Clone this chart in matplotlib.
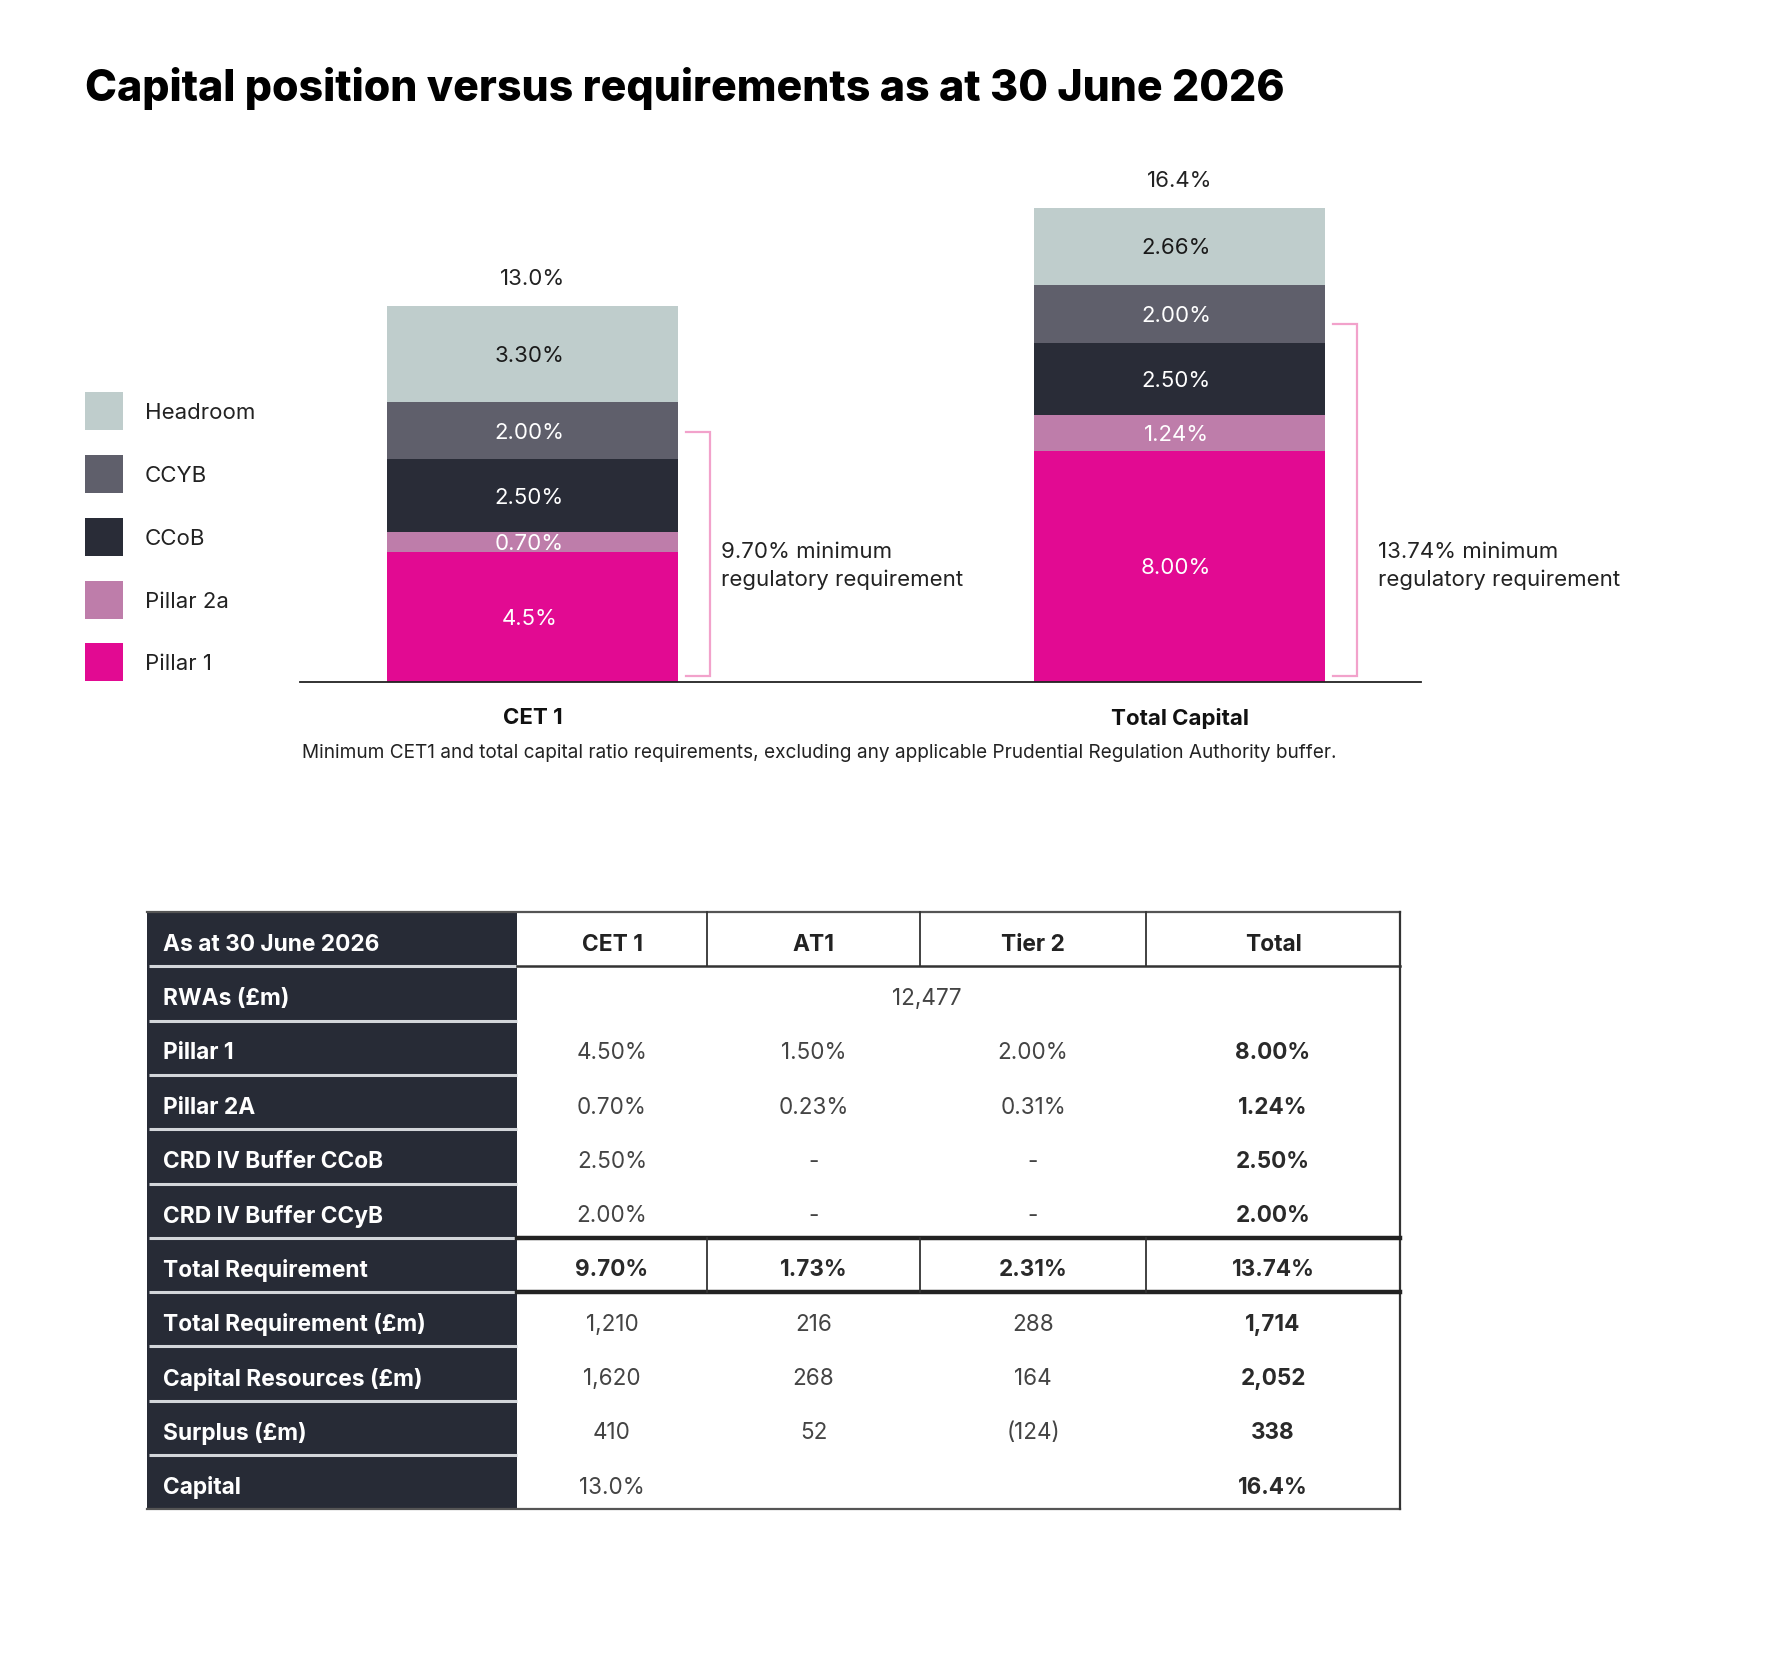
import matplotlib.pyplot as plt
from matplotlib.patches import Rectangle

plt.rcParams['font.family'] = ['Inter', 'DejaVu Sans']

# dados do grafico
categorias = ["CET 1", "Total Capital"]
camadas = ["Pillar 1", "Pillar 2a", "CCoB", "CCYB", "Headroom"]
cores = ["#E20A92", "#BE7DAA", "#292C37", "#5F5F6B", "#BFCDCC"]
cor_texto = ["white", "white", "white", "white", "#1a1a1a"]
valores_cet1 = [4.5, 0.70, 2.50, 2.00, 3.30]
valores_total = [8.00, 1.24, 2.50, 2.00, 2.66]
rotulos_cet1 = ["4.5%", "0.70%", "2.50%", "2.00%", "3.30%"]
rotulos_total = ["8.00%", "1.24%", "2.50%", "2.00%", "2.66%"]
totais = ["13.0%", "16.4%"]
minimos = ["9.70% minimum\nregulatory requirement",
           "13.74% minimum\nregulatory requirement"]
chave_topo = [8.65, 12.4]   # topo das chaves rosas (em %)
chave_base = 0.2

# dados da tabela
cabecalho = ["As at 30 June 2026", "CET 1", "AT1", "Tier 2", "Total"]
linhas = ["RWAs (£m)", "Pillar 1", "Pillar 2A", "CRD IV Buffer CCoB",
          "CRD IV Buffer CCyB", "Total Requirement", "Total Requirement (£m)",
          "Capital Resources (£m)", "Surplus (£m)", "Capital"]
col_cet1 = ["", "4.50%", "0.70%", "2.50%", "2.00%", "9.70%", "1,210", "1,620", "410", "13.0%"]
col_at1 = ["", "1.50%", "0.23%", "-", "-", "1.73%", "216", "268", "52", ""]
col_tier2 = ["", "2.00%", "0.31%", "-", "-", "2.31%", "288", "164", "(124)", ""]
col_tot = ["", "8.00%", "1.24%", "2.50%", "2.00%", "13.74%", "1,714", "2,052", "338", "16.4%"]
rwas = "12,477"

W, H = 1777, 1662
fig = plt.figure(figsize=(W / 100, H / 100), dpi=100)

# eixo de sobreposicao em pixels
ov = fig.add_axes([0, 0, 1, 1])
ov.set_xlim(0, W)
ov.set_ylim(H, 0)
ov.axis('off')

ov.text(85, 88, "Capital position versus requirements as at 30 June 2026",
        fontsize=30.9, fontweight='heavy', color='black', va='center', ha='left')

# legenda manual
leg_y = [662, 600, 537, 474, 411]
for nome, cor, yc in zip(camadas, cores, leg_y):
    ov.add_patch(Rectangle((85, yc - 19), 38, 38, color=cor, lw=0))
    ov.text(145, yc, nome, fontsize=16, color='#222222', va='center_baseline', ha='left')

ov.text(302, 753, "Minimum CET1 and total capital ratio requirements, excluding any applicable "
        "Prudential Regulation Authority buffer.", fontsize=13.7, color='#222222',
        va='center', ha='left')

# grafico de barras
px_por_pct = 28.9
base_px = 682
ax_h = 17 * px_por_pct
ax = fig.add_axes([300 / W, (H - base_px) / H, 1121 / W, ax_h / H])
ax.set_facecolor('none')
passo = 647
xmin = -(532.5 - 300) / passo
ax.set_xlim(xmin, xmin + 1121 / passo)
ax.set_ylim(0, 17)
largura = 291 / passo
texto_dx = [0.292, 0.307]

for i, (vals, rots) in enumerate([(valores_cet1, rotulos_cet1), (valores_total, rotulos_total)]):
    fundo = 0
    for v, r, cor, ct in zip(vals, rots, cores, cor_texto):
        ax.bar(i, v, width=largura, bottom=fundo, color=cor, edgecolor='none')
        ax.text(i - 0.005, fundo + v / 2, r, ha='center', va='center_baseline',
                fontsize=16, color=ct)
        fundo += v
    ax.annotate(totais[i], (i, fundo), xytext=(0, 21), textcoords='offset points',
                ha='center', va='center_baseline', fontsize=16, color='#222222')
    # chave rosa
    x0, x1 = i + 0.238, i + 0.274
    ax.plot([x0, x1, x1, x0], [chave_topo[i], chave_topo[i], chave_base, chave_base],
            color='#F2A2CB', lw=1.6, solid_joinstyle='miter', clip_on=False)
    ax.text(i + texto_dx[i], 4.0, minimos[i], ha='left', va='center', fontsize=16,
            color='#222222', linespacing=1.45)

for s in ['top', 'right', 'left']:
    ax.spines[s].set_visible(False)
ax.spines['bottom'].set_color('#222222')
ax.spines['bottom'].set_linewidth(1.3)
ax.set_yticks([])
ax.set_xticks([0, 1])
ax.set_xticklabels(categorias, fontsize=16, fontweight='bold', color='#111111')
ax.tick_params(axis='x', length=0, pad=19)

# tabela
xs = [147, 517, 707, 920, 1146, 1400]
y0 = 912
rh = 54.3
n = len(linhas) + 1
y_fim = y0 + n * rh
escuro = '#272B36'
ov.add_patch(Rectangle((xs[0], y0), xs[1] - xs[0], n * rh, color=escuro, lw=0))

colunas = [col_cet1, col_at1, col_tier2, col_tot]
centros = [(xs[k] + xs[k + 1]) / 2 for k in range(1, 5)]
va_t = 'center_baseline'
dy = 3  # ajuste vertical do texto

ov.text(163, y0 + rh / 2 + dy, cabecalho[0], fontsize=16.4, fontweight='bold', color='white',
        va=va_t, ha='left')
for k in range(4):
    ov.text(centros[k], y0 + rh / 2 + dy, cabecalho[k + 1], fontsize=16.4, fontweight='bold',
            color='#222222', va=va_t, ha='center')

for j, nome in enumerate(linhas):
    yc = y0 + (j + 1) * rh + rh / 2 + dy
    ov.text(163, yc, nome, fontsize=16.4, fontweight='bold', color='white', va=va_t, ha='left')
    negrito_linha = nome == "Total Requirement"
    for k in range(4):
        txt = colunas[k][j]
        if not txt:
            continue
        negrito = negrito_linha or k == 3
        ov.text(centros[k], yc, txt, fontsize=16.2, fontweight='bold' if negrito else 'normal',
                color='#2a2a2a' if negrito else '#444444', va=va_t, ha='center')
ov.text(927, y0 + 1.5 * rh + dy, rwas, fontsize=16.2, color='#444444', va=va_t, ha='center')

# separadores da coluna escura
for j in range(1, n):
    yy = y0 + j * rh
    ov.plot([xs[0] + 2, xs[1]], [yy, yy], color='#D3D6DA', lw=2.2, solid_capstyle='butt')

# bordas da area branca
cor_borda = '#333333'
ov.plot([xs[0], xs[5]], [y0, y0], color='#555555', lw=1.6)
ov.plot([xs[0], xs[5]], [y_fim, y_fim], color='#555555', lw=1.6)
ov.plot([xs[5], xs[5]], [y0, y_fim], color=cor_borda, lw=1.6)
ov.plot([xs[1], xs[5]], [y0 + rh, y0 + rh], color=cor_borda, lw=1.8)
i_tr = linhas.index("Total Requirement") + 1
for yy in [y0 + i_tr * rh, y0 + (i_tr + 1) * rh]:
    ov.plot([xs[1], xs[5]], [yy, yy], color='#222222', lw=3.2)
for xx in xs[2:5]:
    ov.plot([xx, xx], [y0, y0 + rh], color=cor_borda, lw=1.3)
    ov.plot([xx, xx], [y0 + i_tr * rh, y0 + (i_tr + 1) * rh], color=cor_borda, lw=1.3)

fig.savefig('out.png', dpi=100, facecolor='white')
